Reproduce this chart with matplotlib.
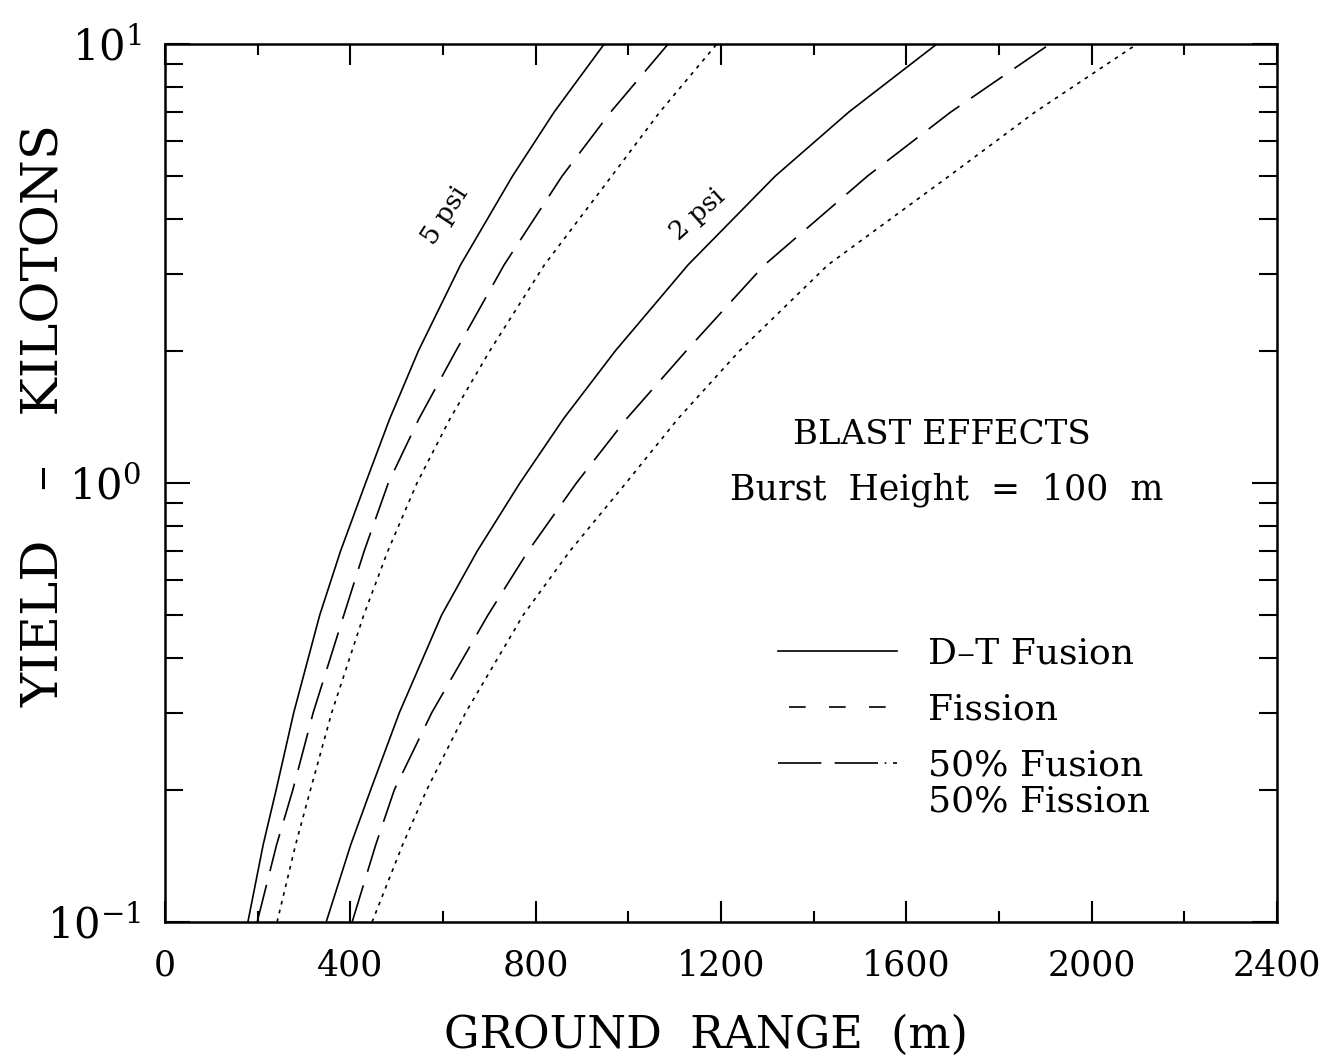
import numpy as np
import matplotlib
matplotlib.use("Agg")
import matplotlib.pyplot as plt
from matplotlib.lines import Line2D
from matplotlib.ticker import LogLocator, MultipleLocator

plt.rcParams['font.family'] = ['DejaVu Serif']
plt.rcParams['mathtext.fontset'] = 'dejavuserif'

yields = [0.1, 0.15, 0.2, 0.3, 0.5, 0.7, 1.0, 1.4, 2.0, 3.14, 5.0, 7.0, 10.0]

# ground range (m) for each curve
psi5_dt = [179, 212, 240, 278, 334, 379, 433, 485, 547, 638, 750, 840, 948]
psi5_fis = [199, 241, 276, 320, 386, 430, 482, 548, 628, 732, 857, 962, 1086]
psi5_mix = [242, 282, 314, 360, 429, 481, 544, 615, 701, 819, 964, 1068, 1191]
psi2_dt = [348, 401, 444, 506, 597, 674, 766, 860, 972, 1129, 1317, 1476, 1666]
psi2_fis = [404, 455, 495, 576, 697, 784, 888, 996, 1125, 1294, 1516, 1696, 1910]
psi2_mix = [447, 513, 565, 649, 773, 874, 995, 1107, 1240, 1431, 1692, 1878, 2098]

lw = 1.2
long_dash = (0, (23, 8.5))
short_dot = (0, (2.2, 3.2))

fig = plt.figure(figsize=(13.27, 10.61), dpi=100)
ax = fig.add_axes([0.1243, 0.131, 0.838, 0.8275])

for xs in (psi5_dt, psi2_dt):
    ax.plot(xs, yields, color='black', lw=lw, linestyle='-')
for xs in (psi5_fis, psi2_fis):
    ax.plot(xs, yields, color='black', lw=lw, linestyle=long_dash)
for xs in (psi5_mix, psi2_mix):
    ax.plot(xs, yields, color='black', lw=lw, linestyle=short_dot)

ax.set_yscale('log')
ax.set_xlim(0, 2400)
ax.set_ylim(0.1, 10)

ax.xaxis.set_major_locator(MultipleLocator(400))
ax.xaxis.set_minor_locator(MultipleLocator(200))
ax.yaxis.set_major_locator(LogLocator(base=10))
ax.yaxis.set_minor_locator(LogLocator(base=10, subs=np.arange(2, 10)))

ax.tick_params(which='both', direction='in', top=True, right=True, width=1.5)
ax.tick_params(axis='x', which='major', length=15, labelsize=25, pad=19)
ax.tick_params(axis='x', which='minor', length=8)
ax.tick_params(axis='y', which='major', length=18, labelsize=30, pad=17)
ax.tick_params(axis='y', which='minor', length=13)
ax.yaxis.set_minor_formatter(plt.NullFormatter())
for s in ax.spines.values():
    s.set_linewidth(1.8)

ax.set_xlabel('GROUND  RANGE  (m)', fontsize=32, va='center')
ax.xaxis.set_label_coords(0.4865, -0.129)
ax.set_ylabel('YIELD   –   KILOTONS', fontsize=37, va='center')
ax.yaxis.set_label_coords(-0.108, 0.577)

ax.text(604, 4.08, '5 psi', fontsize=19, rotation=57, ha='center', va='center')
ax.text(1150, 4.1, '2 psi', fontsize=19, rotation=42, ha='center', va='center')

ax.text(0.699, 0.555, 'BLAST EFFECTS', transform=ax.transAxes, fontsize=24.5,
        ha='center', va='center')
ax.text(0.703, 0.492, 'Burst  Height  =  100  m', transform=ax.transAxes, fontsize=25,
        ha='center', va='center')

handles = [
    Line2D([], [], color='black', lw=lw, linestyle='-'),
    Line2D([], [], color='black', lw=lw, linestyle=(17.4, (10, 14))),
    Line2D([], [], color='black', lw=lw, linestyle=(0, (26, 8, 26, 4, 1, 4, 5, 3))),
]
labels = ['D–T Fusion', 'Fission', '50% Fusion']
ax.legend(handles, labels, loc='upper left', bbox_to_anchor=(0.551, 0.325),
          frameon=False, fontsize=26, handlelength=3.3, handletextpad=0.85,
          labelspacing=0.61, borderpad=0, borderaxespad=0)
ax.text(0.686, 0.137, '50% Fission', transform=ax.transAxes, fontsize=26,
        ha='left', va='center')

fig.savefig('out.png', dpi=100)
